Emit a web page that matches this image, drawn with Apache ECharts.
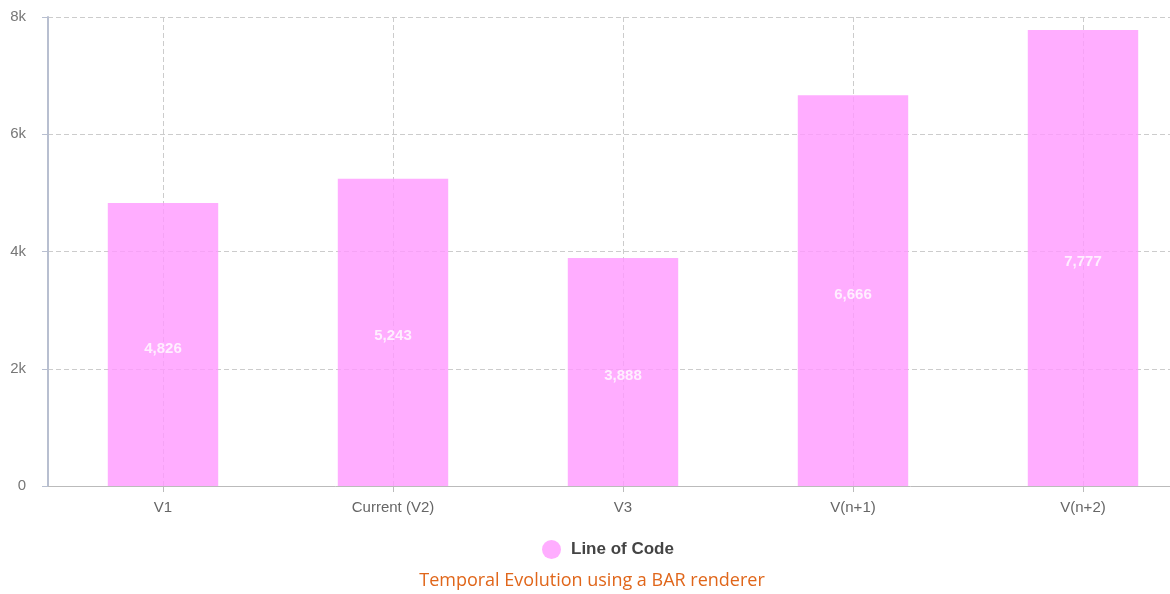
<!DOCTYPE html>
<html><head><meta charset="utf-8">
<script src="https://cdn.jsdelivr.net/npm/echarts@6/dist/echarts.min.js"></script>
<style>html,body{margin:0;padding:0;background:#fff;overflow:hidden}#c{width:1198px;height:594px}</style>
</head><body><div id="c"></div>
<script>
const categories = ['V1', 'Current (V2)', 'V3', 'V(n+1)', 'V(n+2)'];
const linesOfCode = [4826, 5243, 3888, 6666, 7777];
const seriesName = 'Line of Code';
const chartTitle = 'Temporal Evolution using a BAR renderer';

const chart = echarts.init(document.getElementById('c'));
chart.setOption({
  animation: false,
  title: {
    text: chartTitle, left: 587, textAlign: 'center', top: 567,
    textStyle: { color: '#e0661a', fontSize: 18, fontWeight: 'normal', fontFamily: 'Open Sans' }
  },
  legend: {
    data: [seriesName], left: 537, top: 535, icon: 'circle', itemWidth: 19, itemHeight: 19, itemGap: 8,
    textStyle: { fontSize: 17, fontWeight: 'bold', color: '#444', fontFamily: 'Liberation Sans', padding: [0, 0, 0, 5] }
  },
  grid: { left: 48, top: 17, right: 0, height: 469, containLabel: false },
  xAxis: {
    type: 'category', data: categories,
    axisLine: { lineStyle: { color: '#bbb', width: 1 } },
    axisTick: { show: true, alignWithLabel: true, length: 6, lineStyle: { color: '#bbb' } },
    axisLabel: { color: '#666', fontSize: 15, margin: 14, fontFamily: 'Liberation Sans' },
    splitLine: { show: true, alignWithLabel: true, lineStyle: { color: '#ccc', type: [5, 3] } }
  },
  yAxis: {
    type: 'value', min: 0, max: 8000, interval: 2000,
    axisLine: { show: true, lineStyle: { color: '#b8bfd0', width: 2 } },
    axisTick: { show: true, length: 6, lineStyle: { color: '#b8bfd0' } },
    axisLabel: { color: '#777', fontSize: 15, margin: 22, fontFamily: 'Liberation Sans',
      formatter: v => v === 0 ? '0' : (v / 1000) + 'k' },
    splitLine: { show: true, lineStyle: { color: '#ccc', type: [5, 3] } }
  },
  series: [{
    name: seriesName, type: 'bar', data: linesOfCode, barWidth: '48%',
    itemStyle: { color: '#ff99ff', opacity: 0.8 },
    label: { show: true, position: 'inside', offset: [0, 4], color: '#fff', fontSize: 15, fontWeight: 'bold',
      fontFamily: 'Liberation Sans', formatter: p => p.value.toLocaleString('en-US') }
  }]
});
</script></body></html>
